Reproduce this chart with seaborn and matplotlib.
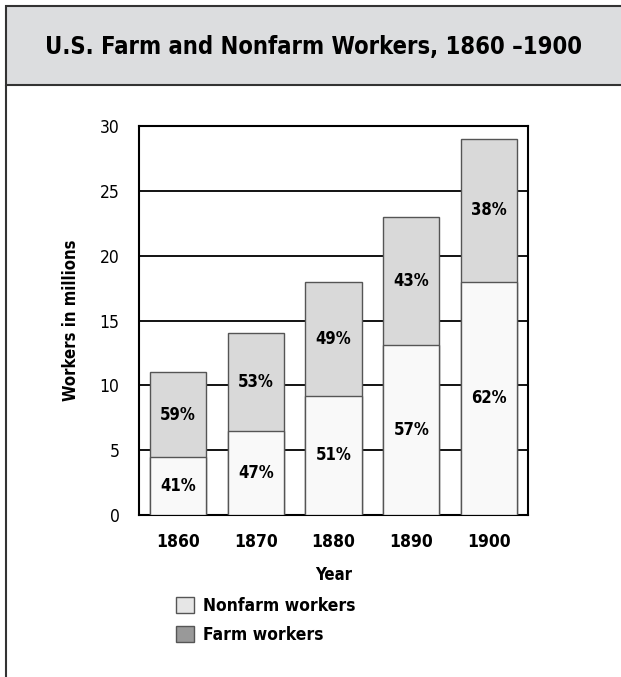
import matplotlib
matplotlib.use("Agg")
import matplotlib.pyplot as plt
import seaborn as sns
import pandas as pd
from matplotlib.patches import Rectangle, Patch
from matplotlib.lines import Line2D

# data
years = ["1860", "1870", "1880", "1890", "1900"]
nonfarm = [4.5, 6.5, 9.2, 13.1, 18.0]
total = [11.0, 14.0, 18.0, 23.0, 29.0]
nonfarm_pct = ["41%", "47%", "51%", "57%", "62%"]
farm_pct = ["59%", "53%", "49%", "43%", "38%"]

df = pd.DataFrame({"Year": years, "Nonfarm": nonfarm, "Total": total})

sns.set_theme(style="white")
plt.rcParams["font.family"] = ["Liberation Sans Narrow", "DejaVu Sans"]
plt.rcParams["font.stretch"] = "condensed"
plt.rcParams["text.color"] = "black"
plt.rcParams["axes.labelcolor"] = "black"

fig = plt.figure(figsize=(6.21, 6.77), dpi=100)

# title band and frame
fig.patches.append(Rectangle((6 / 621, 1 - 85 / 677), 1.0, 79 / 677, transform=fig.transFigure,
                             facecolor="#dcdddf", edgecolor="#333333", linewidth=1.5))
fig.lines.append(Line2D([6 / 621, 6 / 621], [0, 1 - 85 / 677], transform=fig.transFigure,
                        color="#333333", linewidth=1.5))
fig.text(0.505, 1 - 47 / 677, "U.S. Farm and Nonfarm Workers, 1860 \u20131900",
         ha="center", va="center", fontsize=17, fontweight="bold")

ax = fig.add_axes([139 / 621, 1 - 515 / 677, 389 / 621, 389 / 677])

# farm segment drawn as the full total, nonfarm drawn over it
sns.barplot(data=df, x="Year", y="Total", color="#d9d9d9", width=0.72,
            edgecolor="#555555", linewidth=1, saturation=1, ax=ax, zorder=3)
sns.barplot(data=df, x="Year", y="Nonfarm", color="#f9f9f9", width=0.72,
            edgecolor="#555555", linewidth=1, saturation=1, ax=ax, zorder=3)

for i in range(len(years)):
    ax.text(i, nonfarm[i] / 2, nonfarm_pct[i], ha="center", va="center",
            fontsize=12, fontweight="bold", zorder=4)
    ax.text(i, (nonfarm[i] + total[i]) / 2, farm_pct[i], ha="center", va="center",
            fontsize=12, fontweight="bold", zorder=4)

ax.set_ylim(0, 30)
ax.set_xlim(-0.5, 4.5)
ax.set_yticks([0, 5, 10, 15, 20, 25, 30])
ax.yaxis.grid(True, color="black", linewidth=1.3, zorder=0)
ax.set_axisbelow(True)
for s in ax.spines.values():
    s.set_color("black")
    s.set_linewidth(1.5)
ax.tick_params(axis="both", length=0, labelsize=12.5, colors="black")
ax.tick_params(axis="x", pad=13)
ax.tick_params(axis="y", pad=14)
for lab in ax.get_xticklabels():
    lab.set_fontweight("bold")
ax.set_xlabel("Year", fontsize=12, fontweight="bold", labelpad=11)
ax.set_ylabel("Workers in millions", fontsize=12, fontweight="bold", labelpad=14)

handles = [Patch(facecolor="#e6e6e6", edgecolor="#555555", label="Nonfarm workers"),
           Patch(facecolor="#999999", edgecolor="#555555", label="Farm workers")]
fig.legend(handles=handles, loc="upper left", bbox_to_anchor=(160 / 621, 1 - 581 / 677),
           frameon=False, prop={"weight": "bold", "size": 12.5},
           handlelength=1.05, handleheight=1.05, handletextpad=0.55, labelspacing=0.65)

fig.savefig("out.png", dpi=100)
